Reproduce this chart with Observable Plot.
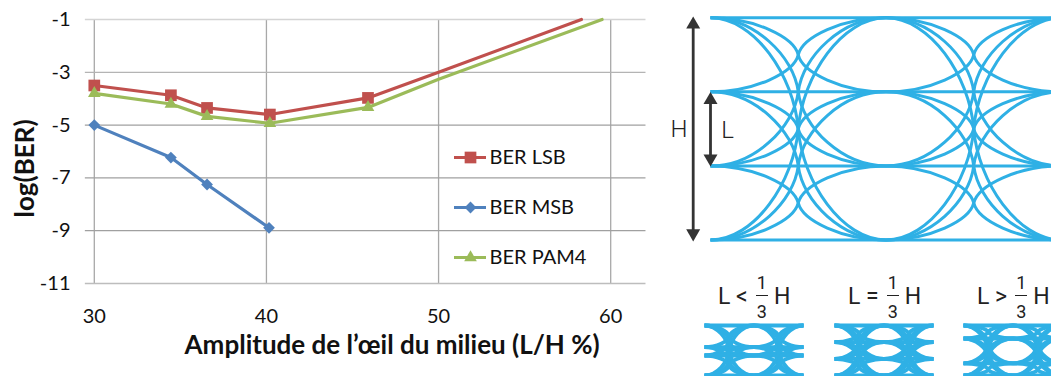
<!DOCTYPE html>
<html><head><meta charset="utf-8">
<script src="https://cdn.jsdelivr.net/npm/d3@7"></script>
<script src="https://cdn.jsdelivr.net/npm/@observablehq/plot@0.6"></script>
<style>
html,body{margin:0;padding:0;background:#fff;overflow:hidden}
#root{position:relative;width:1051px;height:376px;overflow:hidden}
#root>svg{position:absolute}
.cap{position:absolute;top:273px;display:flex;align-items:center;font:23px Roboto,sans-serif;color:#222;height:46px;white-space:nowrap}
.frac{display:flex;flex-direction:column;align-items:center;font-size:18px;margin:0 6px 0 8px;transform:translateY(3px)}
.frac b{font-weight:400;display:block;line-height:31px}
.frac b:first-child{border-bottom:1.6px solid #222;padding:0 1px;line-height:24px}
</style></head><body><div id="root"></div>
<script>
const xLsb=[30,34.45,36.55,40.2,45.9,50,58.3];
const yLsb=[-3.5,-3.87,-4.35,-4.6,-3.97,-3.0,-1];
const xMsb=[30,34.45,36.55,40.15];
const yMsb=[-5,-6.23,-7.25,-8.89];
const xPam=[30,34.45,36.55,40.2,45.9,50,59.5];
const yPam=[-3.8,-4.2,-4.67,-4.93,-4.33,-3.26,-1];
const markedPoints=5;
const xTicks=[30,40,50,60];
const yTicks=[-1,-3,-5,-7,-9,-11];
const names=["BER LSB","BER MSB","BER PAM4"];
const colors=["#c0504d","#4f81bd","#9bbb59"];
const symbols=["square","diamond2","triangle"];
const radii=[6.6,5.3,4.7];
const eyeLevels=[0,1,2,3];
const smallLevels=[[0,1.3,1.8,3],[0,1,2,3],[0,0.78,2.27,3]];
const captions=[["<",704,14],["=",834,14],[">",963,14]];
const eyeBlue="#2fb0e5";
const root=document.getElementById("root");
const place=(el,l,t)=>{el.style.left=l+"px";el.style.top=t+"px";root.appendChild(el);};
const pts=(xs,ys)=>xs.map((x,i)=>({x,y:ys[i]}));
const series=[pts(xLsb,yLsb),pts(xMsb,yMsb),pts(xPam,yPam)];
const font="Lato, Carlito, sans-serif";

// Eye traces: two arcs meeting at mid-interval with a nearly vertical tangent.
const KX=0.5, KY=0.48, TILT=0.05;
const eyeCurve=ctx=>{let p;return{areaStart(){},areaEnd(){},lineStart(){p=[]},point(x,y){p.push([x,y])},lineEnd(){
  const [[x0,y0],[x1,y1]]=p,xm=(x0+x1)/2,ym=(y0+y1)/2,hw=xm-x0;
  ctx.moveTo(x0,y0);
  ctx.bezierCurveTo(x0+KX*hw,y0,xm-TILT*hw,ym-KY*(ym-y0),xm,ym);
  ctx.bezierCurveTo(xm+TILT*hw,ym+KY*(y1-ym),x1-KX*hw,y1,x1,y1);
}}};

const main=Plot.plot({
  width:1051,height:376,marginTop:19,marginLeft:85,marginRight:406,marginBottom:93,
  x:{domain:[30,60],range:[93.8,610.2]},
  y:{domain:[-11,-1],range:[283,19]},
  style:{fontFamily:font,background:"transparent",color:"#111"},
  marks:[
    Plot.ruleX(xTicks,{y1:-11,y2:-1,stroke:"#a8a8a8",strokeWidth:1.3}),
    Plot.ruleY(yTicks,{x1:29.48,x2:62.05,stroke:d=>d===-1?"#d4d4d4":d===-11?"#bdbdbd":d===-3?"#b4b4b4":"#a0a0a0",strokeWidth:1.3}),
    Plot.axisY({ticks:yTicks,tickSize:0,tickPadding:15,fontSize:20,label:null,tickFormat:d=>String(d)}),
    Plot.axisX({ticks:xTicks,tickSize:0,tickPadding:25,fontSize:20,label:null,tickFormat:d=>String(d)}),
    Plot.text(["Amplitude de l’œil du milieu (L/H %)"],{x:()=>47.3,y:()=>-13.35,fontSize:26,fontWeight:700,fontFamily:font,fill:"#111"}),
    Plot.text(["log(BER)"],{x:()=>26,y:()=>-6.64,rotate:-90,fontSize:26,fontWeight:700,fontFamily:font,fill:"#111"}),
    ...series.flatMap((s,i)=>[
      Plot.line(s,{x:"x",y:"y",stroke:colors[i],strokeWidth:3.2}),
      Plot.dot(s.slice(0,markedPoints),{x:"x",y:"y",fill:colors[i],stroke:"none",symbol:symbols[i],r:radii[i]})
    ])
  ]
});
place(main,0,0);

const legend=Plot.plot({
  width:150,height:150,margin:0,
  x:{domain:[0,1],range:[0,32],axis:null},
  y:{type:"point",domain:names,range:[25,125],padding:0,axis:null},
  style:{fontFamily:font,background:"transparent"},
  marks:[
    Plot.ruleY(names,{y:d=>d,x1:0,x2:1,stroke:(d,i)=>colors[i],strokeWidth:3}),
    ...names.map((n,i)=>Plot.dot([n],{x:()=>0.5,y:d=>d,fill:colors[i],stroke:"none",symbol:symbols[i],r:radii[i]})),
    Plot.text(names,{x:()=>1,y:d=>d,dx:3,text:d=>d,textAnchor:"start",fontSize:20,fontFamily:font,fill:"#111"})
  ]
});
place(legend,454,132);

function traces(levels,segments){
  const out=[];
  for(const t of segments) for(const a of levels) for(const b of levels) out.push({t1:t,t2:t+1,a,b});
  return out;
}
const big=Plot.plot({
  width:391,height:260,margin:0,
  x:{domain:[0,2],range:[50,401],axis:null},
  y:{domain:[0,3],range:[17.3,239.5],axis:null},
  style:{background:"transparent",fontFamily:"Roboto, sans-serif"},
  marks:[
    Plot.link(traces(eyeLevels,[0,1]),{x1:"t1",x2:"t2",y1:"a",y2:"b",curve:eyeCurve,stroke:eyeBlue,strokeWidth:3,clip:true}),
    Plot.link([{x:-0.0986,a:0.1,b:2.9},{x:0,a:1.1,b:1.92}],{x1:"x",x2:"x",y1:"a",y2:"b",stroke:"#333",strokeWidth:2.8}),
    Plot.dot([{x:-0.0986,y:0.09},{x:0,y:1.11}],{x:"x",y:"y",symbol:"triangle",r:5.2,fill:"#333",stroke:"none"}),
    Plot.dot([{x:-0.0986,y:2.91},{x:0,y:1.9}],{x:"x",y:"y",symbol:"triangle",r:5.2,fill:"#333",stroke:"none",rotate:180}),
    Plot.text([{x:-0.18,y:1.5,t:"H"},{x:0.097,y:1.52,t:"L"}],{x:"x",y:"y",text:"t",fontSize:24,fill:"#222",fontWeight:300})
  ]
});
place(big,660,0);

smallLevels.forEach((lv,i)=>{
  const left=captions[i][1];
  const p=Plot.plot({
    width:100,height:56,margin:0,
    x:{domain:[0,2],range:[0,99],axis:null},
    y:{domain:[0,3],range:[5,55],axis:null},
    style:{background:"transparent"},
    marks:[Plot.link(traces(lv,[0,1]),{x1:"t1",x2:"t2",y1:"a",y2:"b",curve:eyeCurve,stroke:eyeBlue,strokeWidth:3.8,clip:true})]
  });
  place(p,left,320);
  const c=document.createElement("div");
  c.className="cap";
  c.style.left=(left+captions[i][2])+"px";
  c.innerHTML=`<span>L ${captions[i][0]}</span><span class="frac"><b>1</b><b>3</b></span><span>H</span>`;
  root.appendChild(c);
});
</script></body></html>
